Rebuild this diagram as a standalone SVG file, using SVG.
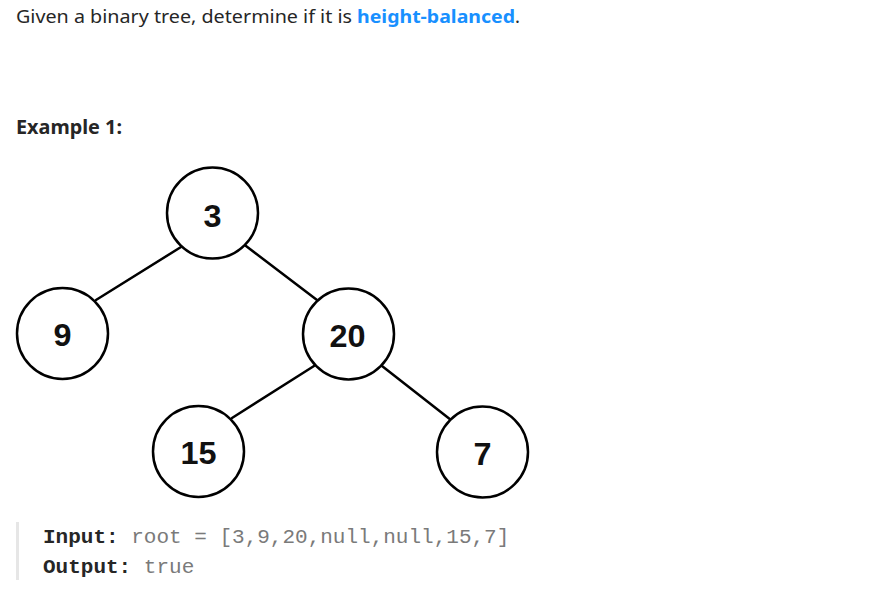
<svg xmlns="http://www.w3.org/2000/svg" width="873" height="597" viewBox="0 0 873 597">
<style>
.txt{font-family:"Noto Sans","Open Sans","Liberation Sans",sans-serif;fill:#262626}
.node circle{fill:#fff;stroke:#000;stroke-width:2.5}
.node text{font-family:"Liberation Sans",Arial,sans-serif;font-weight:bold;font-size:32px;fill:#111;text-anchor:middle}
.edge{stroke:#000;stroke-width:2.5;stroke-linecap:round}
.mono{font-family:"Liberation Mono","DejaVu Sans Mono",monospace;font-size:21px}
</style>
<rect width="873" height="597" fill="#fff"/>
<text class="txt" y="23" font-size="18.5"><tspan x="16" textLength="336" lengthAdjust="spacingAndGlyphs">Given a binary tree, determine if it is</tspan><tspan x="357" textLength="158" lengthAdjust="spacingAndGlyphs" font-weight="bold" fill="#1890ff">height-balanced</tspan><tspan x="515">.</tspan></text>
<text class="txt" x="16" y="134" font-size="19.5" font-weight="bold" textLength="106" lengthAdjust="spacingAndGlyphs">Example 1:</text>
<g id="connectors">
<line class="edge" x1="181" y1="247" x2="96" y2="300"/>
<line class="edge" x1="246" y1="246" x2="317" y2="300"/>
<line class="edge" x1="314" y1="366" x2="232" y2="418"/>
<line class="edge" x1="382" y1="366" x2="451" y2="420"/>
</g>
<g id="node-3" class="node"><circle cx="212.5" cy="213" r="45.5"/><text x="212.5" y="226.5" textLength="18" lengthAdjust="spacingAndGlyphs">3</text></g>
<g id="node-9" class="node"><circle cx="62.5" cy="333.5" r="45.5"/><text x="62.5" y="346" textLength="18" lengthAdjust="spacingAndGlyphs">9</text></g>
<g id="node-20" class="node"><circle cx="348.5" cy="334" r="45.5"/><text x="347.5" y="346.5" textLength="36" lengthAdjust="spacingAndGlyphs">20</text></g>
<g id="node-15" class="node"><circle cx="198.5" cy="451.5" r="45.5"/><text x="198.5" y="464" textLength="36" lengthAdjust="spacingAndGlyphs">15</text></g>
<g id="node-7" class="node"><circle cx="482.5" cy="452" r="45.5"/><text x="482.5" y="464.5" textLength="18" lengthAdjust="spacingAndGlyphs">7</text></g>
<rect x="16" y="522" width="3" height="58" fill="#e6e6e6"/>
<text class="mono" x="43" y="543" xml:space="preserve"><tspan font-weight="bold" fill="#262626">Input:</tspan><tspan fill="#7a7a7a"> root = [3,9,20,null,null,15,7]</tspan></text>
<text class="mono" x="43" y="573" xml:space="preserve"><tspan font-weight="bold" fill="#262626">Output:</tspan><tspan fill="#7a7a7a"> true</tspan></text>
</svg>
